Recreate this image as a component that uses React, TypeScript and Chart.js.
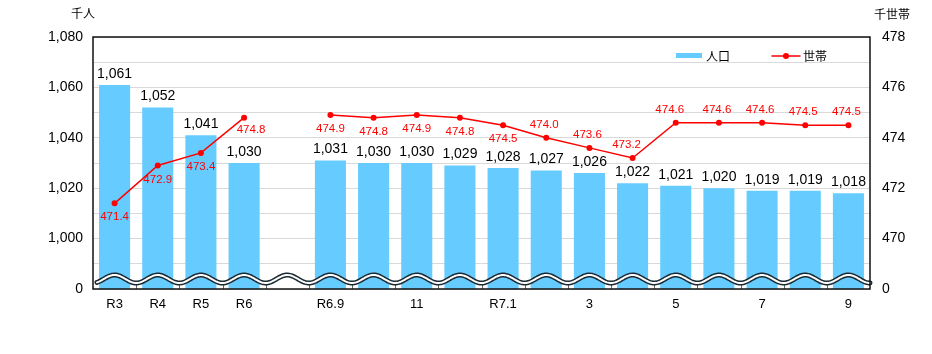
import React, { useEffect, useRef } from 'react';
import { Chart, registerables } from 'chart.js';

Chart.register(...registerables);

// ---- data ----
const categories = ['R3', 'R4', 'R5', 'R6', '', 'R6.9', 'R6.10', 'R6.11', 'R6.12', 'R7.1', 'R7.2', 'R7.3', 'R7.4', 'R7.5', 'R7.6', 'R7.7', 'R7.8', 'R7.9'];
const tickLabels = ['R3', 'R4', 'R5', 'R6', '', 'R6.9', '', '11', '', 'R7.1', '', '3', '', '5', '', '7', '', '9'];
const population = [1061, 1052, 1041, 1030, null, 1031, 1030, 1030, 1029, 1028, 1027, 1026, 1022, 1021, 1020, 1019, 1019, 1018];
const households = [471.4, 472.9, 473.4, 474.8, null, 474.9, 474.8, 474.9, 474.8, 474.5, 474.0, 473.6, 473.2, 474.6, 474.6, 474.6, 474.5, 474.5];
const householdLabelAnchor = ['below', 'below', 'below', 'belowRight', '', 'below', 'below', 'below', 'below', 'below', 'above', 'above', 'aboveLeft', 'aboveLeft', 'above', 'above', 'above', 'above'];
const leftAxisLabels = ['0', '1,000', '1,020', '1,040', '1,060', '1,080'];
const leftAxisValues = [980, 1000, 1020, 1040, 1060, 1080];
const rightAxisLabels = ['0', '470', '472', '474', '476', '478'];
const rightAxisValues = [468, 470, 472, 474, 476, 478];
const populationLabel = '人口';
const householdLabel = '世帯';
const leftUnit = '千人';
const rightUnit = '千世帯';

const BAR_COLOR = '#66CCFF';
const LINE_COLOR = '#FF0000';
const NUM_FONT = '"Liberation Sans", Arial, sans-serif';
const CJK_FONT = '"Noto Sans CJK JP", sans-serif';

const fmt = (v: number) => v.toLocaleString('en-US');

const decorPlugin = {
  id: 'decor',
  beforeDatasetsDraw(chart: any) {
    const { ctx, chartArea } = chart;
    const xs = chart.scales.x;
    const w = xs.getPixelForValue(1) - xs.getPixelForValue(0);
    ctx.save();
    ctx.strokeStyle = '#666';
    ctx.lineWidth = 1;
    for (let i = 1; i < categories.length; i++) {
      const x = Math.round(xs.getPixelForValue(i) - w / 2) + 0.5;
      ctx.beginPath();
      ctx.moveTo(x, chartArea.bottom);
      ctx.lineTo(x, chartArea.bottom - 4);
      ctx.stroke();
    }
    ctx.restore();
  },
  afterDatasetsDraw(chart: any) {
    const { ctx, chartArea } = chart;
    const xs = chart.scales.x;
    const yL = chart.scales.y;
    const yR = chart.scales.y1;
    const P = xs.getPixelForValue(1) - xs.getPixelForValue(0);
    const c0 = xs.getPixelForValue(0);
    ctx.save();

    // wavy axis break
    const cy = chartArea.bottom - 10;
    const A = 4;
    const buildWave = () => {
      ctx.beginPath();
      for (let x = chartArea.left + 4; x <= chartArea.right; x += 1) {
        const y = cy - A * Math.cos((2 * Math.PI * (x - c0)) / P);
        if (x === chartArea.left + 4) ctx.moveTo(x, y);
        else ctx.lineTo(x, y);
      }
    };
    ctx.lineCap = 'round';
    buildWave();
    ctx.strokeStyle = '#1c2b33';
    ctx.lineWidth = 5;
    ctx.stroke();
    buildWave();
    ctx.strokeStyle = '#ffffff';
    ctx.lineWidth = 2;
    ctx.stroke();

    // plot border
    ctx.strokeStyle = '#111';
    ctx.lineWidth = 1.5;
    ctx.strokeRect(chartArea.left, chartArea.top, chartArea.right - chartArea.left, chartArea.bottom - chartArea.top);

    // bar labels
    ctx.fillStyle = '#000';
    ctx.font = `14px ${NUM_FONT}`;
    ctx.textAlign = 'center';
    ctx.textBaseline = 'middle';
    population.forEach((v, i) => {
      if (v == null) return;
      ctx.fillText(fmt(v), xs.getPixelForValue(i), yL.getPixelForValue(v) - 11);
    });

    // household labels
    ctx.fillStyle = LINE_COLOR;
    ctx.font = `11.5px ${NUM_FONT}`;
    households.forEach((v, i) => {
      if (v == null) return;
      const px = xs.getPixelForValue(i);
      const py = yR.getPixelForValue(v);
      const a = householdLabelAnchor[i];
      let dx = 0, dy = 14;
      if (a === 'belowRight') { dx = 7; dy = 12; }
      else if (a === 'above') { dx = -2; dy = -13; }
      else if (a === 'aboveLeft') { dx = -6; dy = -13; }
      ctx.fillText(v.toFixed(1), px + dx, py + dy);
    });

    // legend
    const ly = chartArea.top + 19;
    const lx = chartArea.right - 194;
    ctx.fillStyle = BAR_COLOR;
    ctx.fillRect(lx, ly - 3, 26, 5);
    ctx.fillStyle = '#000';
    ctx.font = `12px ${CJK_FONT}`;
    ctx.textAlign = 'left';
    ctx.fillText(populationLabel, lx + 30, ly);
    ctx.strokeStyle = LINE_COLOR;
    ctx.lineWidth = 1.5;
    ctx.beginPath();
    ctx.moveTo(lx + 96, ly);
    ctx.lineTo(lx + 124, ly);
    ctx.stroke();
    ctx.fillStyle = LINE_COLOR;
    ctx.beginPath();
    ctx.arc(lx + 110, ly, 3, 0, Math.PI * 2);
    ctx.fill();
    ctx.fillStyle = '#000';
    ctx.fillText(householdLabel, lx + 127, ly);

    // unit titles
    ctx.textAlign = 'center';
    ctx.fillText(leftUnit, chartArea.left - 10, 13);
    ctx.fillText(rightUnit, chartArea.right + 22, 14);

    ctx.restore();
  },
};

export default function App() {
  const ref = useRef<HTMLCanvasElement>(null);
  useEffect(() => {
    if (!ref.current) return;
    const chart = new Chart(ref.current, {
      type: 'bar',
      data: {
        labels: categories,
        datasets: [
          {
            type: 'line',
            label: householdLabel,
            data: households,
            yAxisID: 'y1',
            borderColor: LINE_COLOR,
            backgroundColor: LINE_COLOR,
            borderWidth: 1.5,
            pointRadius: 3,
            pointBackgroundColor: LINE_COLOR,
            pointBorderWidth: 0,
            spanGaps: false,
            order: 0,
          } as any,
          {
            type: 'bar',
            label: populationLabel,
            data: population,
            yAxisID: 'y',
            backgroundColor: BAR_COLOR,
            borderWidth: 0,
            barPercentage: 0.72,
            categoryPercentage: 1,
            order: 1,
          } as any,
        ],
      },
      options: {
        animation: false,
        responsive: true,
        maintainAspectRatio: false,
        layout: { padding: { top: 37, left: 0, right: 0, bottom: 0 } },
        plugins: { legend: { display: false }, tooltip: { enabled: false } },
        scales: {
          x: {
            type: 'category',
            offset: true,
            grid: { display: false, drawTicks: false },
            border: { display: false },
            ticks: {
              autoSkip: false,
              maxRotation: 0,
              padding: 8,
              color: '#000',
              font: { family: NUM_FONT, size: 13 },
              callback: (_v: any, i: number) => tickLabels[i],
            },
            afterFit: (s: any) => { s.height = 65; },
          },
          y: {
            position: 'left',
            min: 980,
            max: 1080,
            grid: { color: '#d9d9d9', lineWidth: 1, drawTicks: false },
            border: { display: false },
            ticks: {
              stepSize: 10,
              autoSkip: false,
              padding: 10,
              color: '#000',
              font: { family: NUM_FONT, size: 14 },
              callback: (v: any) => {
                const k = leftAxisValues.indexOf(Number(v));
                return k >= 0 ? leftAxisLabels[k] : '';
              },
            },
            afterFit: (s: any) => { s.width = 93; },
          },
          y1: {
            position: 'right',
            min: 468,
            max: 478,
            grid: { display: false, drawTicks: false },
            border: { display: false },
            ticks: {
              stepSize: 1,
              autoSkip: false,
              padding: 12,
              color: '#000',
              font: { family: NUM_FONT, size: 14 },
              callback: (v: any) => {
                const k = rightAxisValues.indexOf(Number(v));
                return k >= 0 ? rightAxisLabels[k] : '';
              },
            },
            afterFit: (s: any) => { s.width = 62; },
          },
        },
      } as any,
      plugins: [decorPlugin],
    });
    return () => chart.destroy();
  }, []);

  return (
    <div style={{ position: 'absolute', left: 0, top: 0, width: 932, height: 354, background: '#fff' }}>
      <canvas ref={ref} />
    </div>
  );
}
